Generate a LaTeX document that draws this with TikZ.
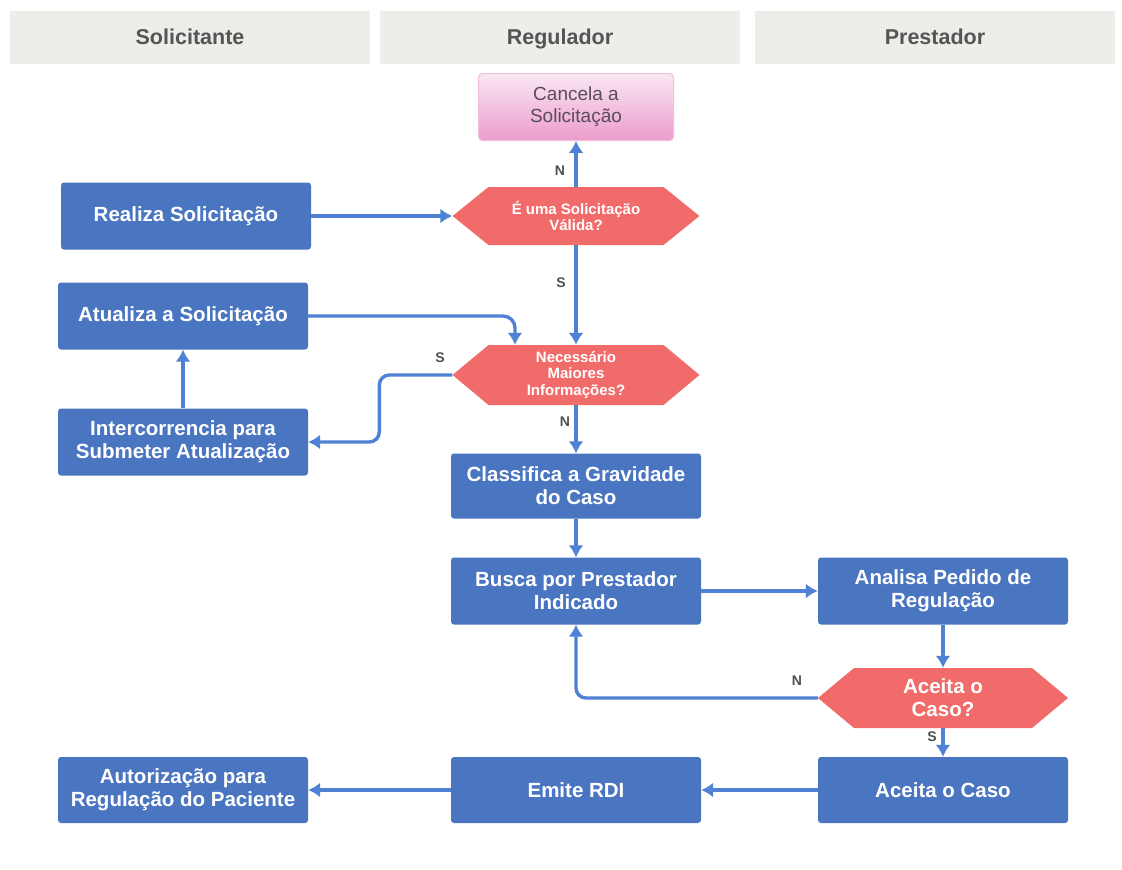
\documentclass[tikz,border=0pt]{standalone}
\usepackage{fontspec}
\setmainfont{Liberation Sans}
\usetikzlibrary{arrows.meta,calc}
\definecolor{boxblue}{HTML}{4A75C1}
\definecolor{arrblue}{HTML}{4F82D4}
\definecolor{hexred}{HTML}{F26B6B}
\definecolor{hdrgray}{HTML}{EDEDEA}
\definecolor{hdrtext}{HTML}{555555}
\definecolor{pinktop}{HTML}{FAE8F3}
\definecolor{pinkbot}{HTML}{EC9CCD}
\definecolor{pinkline}{HTML}{F2BEDD}
\definecolor{canctext}{HTML}{5A4D5A}
\definecolor{lbltext}{HTML}{505050}
\tikzset{
  proc/.style={rectangle, rounded corners=3pt, fill=boxblue, text=white,
    font=\bfseries\fontsize{20.5}{23}\selectfont, align=center,
    minimum width=250pt, minimum height=67pt, inner sep=0pt},
  hdr/.style={rectangle, fill=hdrgray, text=hdrtext,
    font=\bfseries\fontsize{21.5}{24}\selectfont, text height=15pt, text depth=0pt,
    minimum width=360pt, minimum height=53pt, inner sep=0pt},
  hexa/.style={rectangle, minimum width=247pt, minimum height=58pt, inner sep=0pt,
    text=white, align=center, font=\bfseries\fontsize{15}{16.5}\selectfont,
    path picture={\fill[hexred] (path picture bounding box.west)
      -- ([xshift=36pt]path picture bounding box.north west)
      -- ([xshift=-36pt]path picture bounding box.north east)
      -- (path picture bounding box.east)
      -- ([xshift=-36pt]path picture bounding box.south east)
      -- ([xshift=36pt]path picture bounding box.south west) -- cycle;}},
  arr/.style={draw=arrblue, line width=3.4pt, -{Latex[length=12pt,width=15pt]}},
  lbl/.style={text=lbltext, font=\bfseries\fontsize{14}{16}\selectfont, inner sep=0pt}
}
\begin{document}
\begin{tikzpicture}[x=1pt,y=-1pt]
\fill[white] (0,0) rectangle (1122,870);
\useasboundingbox (0,0) rectangle (1122,870);
% headers
\node[hdr] (hsol) at (190,37) {Solicitante};
\node[hdr] (hreg) at (560,37) {Regulador};
\node[hdr] (hpre) at (935,37) {Prestador};
% nodes
\node[rectangle, rounded corners=4pt, top color=pinktop, bottom color=pinkbot,
  draw=pinkline, line width=1pt, minimum width=195pt, minimum height=67pt,
  text=canctext, font=\fontsize{19}{22}\selectfont, align=center, inner sep=0pt]
  (canc) at (576,107) {Cancela a\\Solicitação};
\node[hexa] (d1) at (576,216) {É uma Solicitação\\Válida?};
\node[proc] (real) at (186,216) {Realiza Solicitação};
\node[proc] (atu) at (183,316) {Atualiza a Solicitação};
\node[hexa, minimum height=60pt] (d2) at (576,375) {Necessário\\Maiores\\Informações?};
\node[proc] (inter) at (183,442) {Intercorrencia para\\Submeter Atualização};
\node[proc, minimum height=65pt] (clas) at (576,486) {Classifica a Gravidade\\do Caso};
\node[proc] (busca) at (576,591) {Busca por Prestador\\Indicado};
\node[proc] (anal) at (943,591) {Analisa Pedido de\\Regulação};
\node[hexa, minimum width=250pt, minimum height=60pt,
  font=\bfseries\fontsize{20.5}{23}\selectfont] (d3) at (943,698) {Aceita o\\Caso?};
\node[proc, minimum height=66pt] (aceita) at (943,790) {Aceita o Caso};
\node[proc, minimum height=66pt] (emite) at (576,790) {Emite RDI};
\node[proc, minimum height=66pt] (aut) at (183,790) {Autorização para\\Regulação do Paciente};
% connectors
\draw[arr] (real.east) -- (d1.west);
\draw[arr] (d1.north) -- (canc.south);
\draw[arr] (d1.south) -- (d2.north);
\draw[arr, rounded corners=12pt] (atu.east) -| ([xshift=-61pt]d2.north);
\draw[arr, rounded corners=10pt] (d2.west) -- ++(-73pt,0) |- (inter.east);
\draw[arr] (inter.north) -- (atu.south);
\draw[arr] (d2.south) -- (clas.north);
\draw[arr] (clas.south) -- (busca.north);
\draw[arr] (busca.east) -- (anal.west);
\draw[arr] (anal.south) -- (d3.north);
\draw[arr, rounded corners=10pt] (d3.west) -| (busca.south);
\draw[arr] (d3.south) -- (aceita.north);
\draw[arr] (aceita.west) -- (emite.east);
\draw[arr] (emite.west) -- (aut.east);
% labels
\node[lbl] (l1) at (560,171) {N};
\node[lbl] (l2) at (561,283) {S};
\node[lbl] (l3) at (440,358) {S};
\node[lbl] (l4) at (565,422) {N};
\node[lbl] (l5) at (797,681) {N};
\node[lbl] (l6) at (932,737) {S};
\end{tikzpicture}
\end{document}
